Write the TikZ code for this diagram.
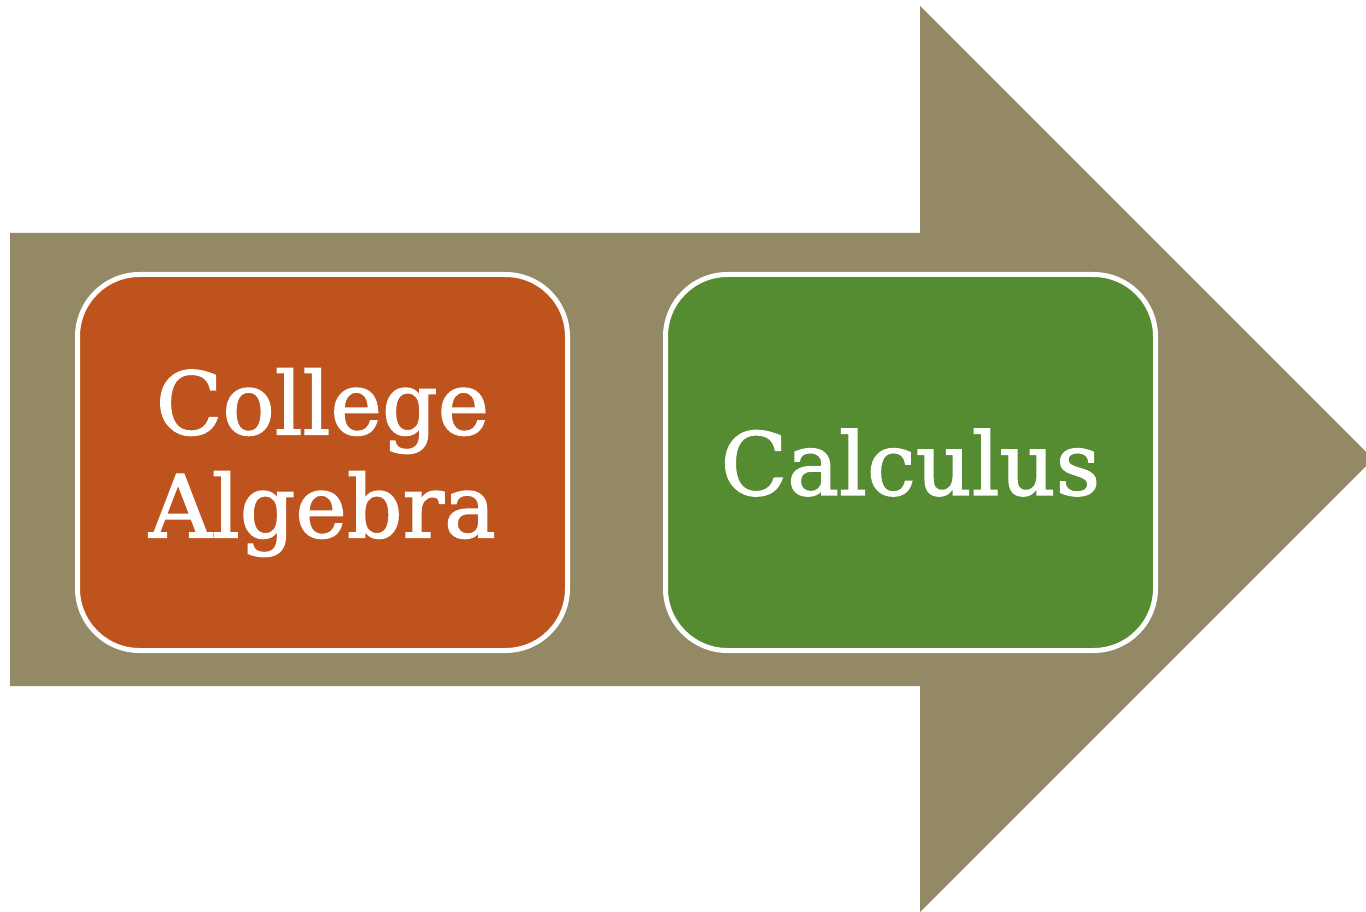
\documentclass[tikz,border=0pt]{standalone}
\usepackage{fontspec}
\setmainfont{DejaVu Serif}
\newfontfamily\slabfont[FakeBold=1.6]{DejaVu Serif}
\definecolor{tan}{RGB}{148,137,101}
\definecolor{rust}{RGB}{190,83,30}
\definecolor{leaf}{RGB}{85,139,49}
\begin{document}
\begin{tikzpicture}[x=1pt,y=-1pt,
  stage/.style={draw=white,line width=5pt,rounded corners=62pt,minimum width=490pt,minimum height=376pt,
    text=white,align=center,font=\slabfont\fontsize{87}{103}\selectfont,inner sep=0pt}]
\useasboundingbox (0,0) rectangle (1366,912);
\clip (0,0) rectangle (1366,912);
\fill[tan] (10,233) -- (920,233) -- (920,6) -- (1373,459) -- (920,912) -- (920,686) -- (10,686) -- cycle;
\node[stage,fill=rust] (alg) at (322.5,462.5) {\raisebox{-5pt}{College}\\\raisebox{-5pt}{Algebra}};
\node[stage,fill=leaf] (calc) at (910.5,462.5) {Calculus};
\end{tikzpicture}
\end{document}
